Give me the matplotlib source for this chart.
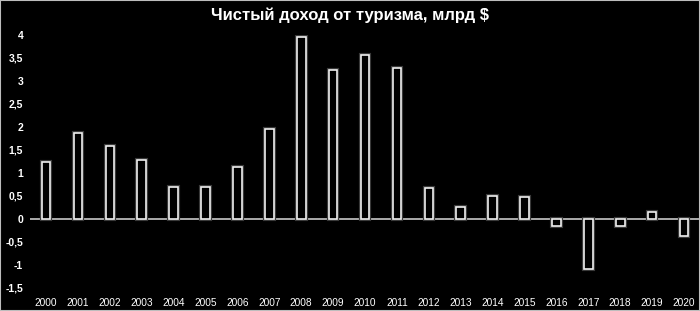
import matplotlib.pyplot as plt
import matplotlib.patheffects as pe
from matplotlib.patches import Rectangle

# Чистый доход от туризма, млрд $
years = [str(y) for y in range(2000, 2021)]
income = [1.23, 1.86, 1.58, 1.28, 0.70, 0.70, 1.14, 1.96, 3.95, 3.24, 3.57,
          3.28, 0.68, 0.27, 0.51, 0.47, -0.15, -1.09, -0.15, 0.16, -0.36]
y_ticks = [-1.5, -1, -0.5, 0, 0.5, 1, 1.5, 2, 2.5, 3, 3.5, 4]

plt.rcParams['font.family'] = ['Liberation Sans', 'DejaVu Sans']

fig = plt.figure(figsize=(7, 3.11), dpi=100, facecolor='black')
ax = fig.add_axes([0.043, 0.074, 0.957, 0.8135], facecolor='black')

x = range(len(years))
bars = ax.bar(x, income, width=0.27, color='black', edgecolor='#f0f0f0',
              linewidth=1.2, zorder=3)
for b in bars:
    b.set_path_effects([pe.Stroke(linewidth=3.0, foreground='#3a3a3a'), pe.Normal()])

ax.axhline(0, color='#d9d9d9', linewidth=1.1, zorder=2)

ax.set_xlim(-0.5, len(years) - 0.5)
ax.set_ylim(-1.5, 4)
ax.set_xticks(list(x))
ax.set_xticklabels(years, color='white', fontsize=7.3)
ax.set_yticks(y_ticks)
ax.set_yticklabels([f'{v:g}'.replace('.', ',') for v in y_ticks],
                   color='white', fontsize=7.5, fontweight='bold')
ax.tick_params(axis='both', length=0)
ax.tick_params(axis='x', pad=7)
ax.tick_params(axis='y', pad=5)
for s in ax.spines.values():
    s.set_visible(False)

fig.text(0.5, 0.952, 'Чистый доход от туризма, млрд $', color='white',
         fontsize=12, fontweight='bold', ha='center', va='center')

# светлая рамка вокруг картинки
fig.patches.append(Rectangle((0, 0), 1, 1, transform=fig.transFigure,
                             fill=False, edgecolor='#bdbdbd', linewidth=1.5))

fig.savefig('out.png', dpi=100, facecolor='black')
